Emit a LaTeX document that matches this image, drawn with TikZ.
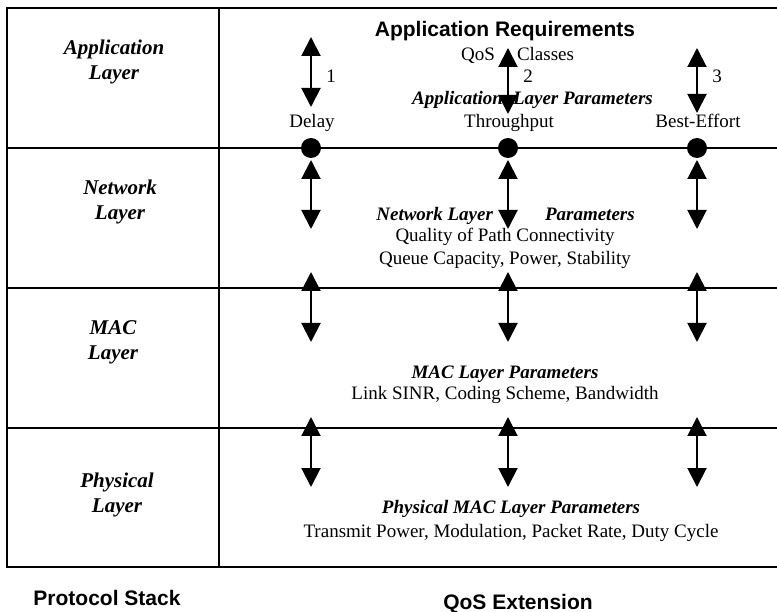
\documentclass[tikz,border=0pt]{standalone}
\usepackage{fontspec}
\setmainfont{Liberation Serif}
\newfontfamily\headfont{Liberation Sans}
\usetikzlibrary{positioning}
\usetikzlibrary{arrows.meta}
\tikzset{
	every path/.style={line width=2pt},
	every node/.style={inner sep=0pt,outer sep=0pt},
	updown/.style={{Triangle[width=19pt,length=19pt]}-{Triangle[width=19pt,length=19pt]}},
	dot/.style={circle,fill=black,minimum size=20pt},
	layername/.style={anchor=base,align=center,font=\fontsize{21}{25}\selectfont\bfseries\itshape},
	paramhead/.style={anchor=base,font=\fontsize{19}{22}\selectfont\bfseries\itshape},
	paramtext/.style={anchor=base,font=\fontsize{19}{22}\selectfont},
	caption/.style={anchor=base,font=\fontsize{21}{25}\selectfont\headfont\bfseries},
}

\begin{document}
\begin{tikzpicture}[x=1pt,y=-1pt]
	\useasboundingbox (0,0) rectangle (777,612);

	% frame and rows.....................
	\draw (777,8) -- (7,8) -- (7,567) -- (777,567);
	\draw (219,8) -- (219,567);
	\foreach \y in {148,288,428}
		\draw (7,\y) -- (777,\y);

	% layer names (base = last line).....
	\node [layername] (appl) at (114,80) {Application\\Layer};
	\node [layername] (netl) at (120,220) {Network\\Layer};
	\node [layername] (macl) at (113,360) {MAC\\Layer};
	\node [layername] (phyl) at (117,512) {Physical\\Layer};

	% application requirements...........
	\node [caption] (req) at (505,37) {Application Requirements};
	\node [paramtext, anchor=base east] (qos) at (495,61) {QoS};
	\node [paramtext, anchor=base west] (cls) at (517,61) {Classes};
	\node [paramhead, anchor=base east] (aplp) at (503,105) {Application};
	\node [paramhead, anchor=base west] (aplq) at (513,105) {Layer Parameters};

	% QoS classes........................
	\foreach \x/\t/\b/\name/\num [count=\i] in {311/37/107/Delay/1, 508/48/114/Throughput/2, 697/48/113/Best-Effort/3} {
		\coordinate (app\i t) at (\x,\t);
		\coordinate (app\i b) at (\x,\b);
		\draw [updown] (app\i t) -- (app\i b);
		\node [paramtext] (num\i) at (\x+20,83) {\num};
		\node [paramtext] (cls\i) at (\x+1,128) {\name};
		\node [dot] (dot\i) at (\x,148) {};
	}

	% arrows between layers..............
	\foreach \x [count=\i] in {311,508,697} {
		\coordinate (net\i t) at (\x,160);
		\coordinate (net\i b) at (\x,229);
		\coordinate (mac\i t) at (\x,272);
		\coordinate (mac\i b) at (\x,342);
		\coordinate (phy\i t) at (\x,417);
		\coordinate (phy\i b) at (\x,487);
		\draw [updown] (net\i t) -- (net\i b);
		\draw [updown] (mac\i t) -- (mac\i b);
		\draw [updown] (phy\i t) -- (phy\i b);
	}

	% layer parameters...................
	\node [paramhead, anchor=base east] (netp) at (493,221) {Network Layer};
	\node [paramhead, anchor=base west] (netq) at (545,221) {Parameters};
	\node [paramtext] (nett1) at (505,242) {Quality of Path Connectivity};
	\node [paramtext] (nett2) at (505,265) {Queue Capacity, Power, Stability};
	\node [paramhead] (macp) at (505,379) {MAC Layer Parameters};
	\node [paramtext] (mact) at (505,400) {Link SINR, Coding Scheme, Bandwidth};
	\node [paramhead] (phyp) at (511,513) {Physical MAC Layer Parameters};
	\node [paramtext] (phyt) at (511,537) {Transmit Power, Modulation, Packet Rate, Duty Cycle};

	% captions...........................
	\node [caption] (stack) at (107,605) {Protocol Stack};
	\node [caption] (ext) at (518,609) {QoS Extension};
\end{tikzpicture}
\end{document}
